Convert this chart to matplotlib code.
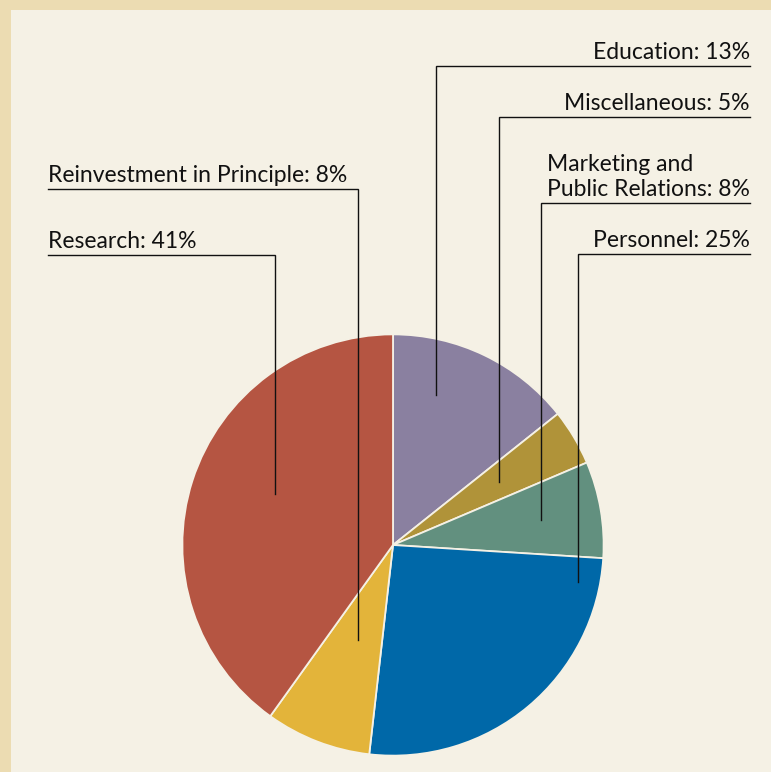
import matplotlib.pyplot as plt
from matplotlib.patches import Rectangle

# Data
labels = ["Education", "Miscellaneous", "Marketing and\nPublic Relations",
          "Personnel", "Reinvestment in Principle", "Research"]
label_pct = [13, 5, 8, 25, 8, 41]
# wedge sizes as drawn in the picture (slightly differ from the printed labels)
shares = [14.3, 4.3, 7.4, 25.8, 8.1, 40.1]
colors = ["#8a80a0", "#b09339", "#62907f", "#0068a8", "#e3b43a", "#b55542"]

# leader layout (data units, pie radius = 1)
anchor_x = [0.205, 0.505, 0.705, 0.881, -0.167, -0.562]
anchor_y = [0.714, 0.30, 0.119, -0.176, -0.452, 0.243]
shelf_y = [2.281, 2.038, 1.629, 1.386, 1.695, 1.381]
side = ["right", "right", "right", "right", "left", "left"]

W, H = 771, 772
R = 210
CX, CY = 393, 545

fig = plt.figure(figsize=(W / 100, H / 100), dpi=100)
fig.patch.set_facecolor("#ecdcb2")
fig.patches.append(Rectangle((11 / W, 0), 1, 1 - 10 / H, transform=fig.transFigure,
                             facecolor="#f5f1e5", edgecolor="none", zorder=0))

ax = fig.add_axes([0, 0, 1, 1])
ax.set_zorder(2)
ax.set_facecolor("none")
ax.pie(shares, colors=colors, startangle=90, counterclock=False, radius=1.003,
       wedgeprops=dict(edgecolor="#f5f1e5", linewidth=1.3))
ax.set_xlim(-CX / R, (W - CX) / R)
ax.set_ylim((CY - H) / R, CY / R)
ax.set_aspect("equal")
ax.axis("off")

right_end = (750 - CX) / R
left_end = (48 - CX) / R
gap = 7 / R
for lab, val, x, y, sy, s in zip(labels, label_pct, anchor_x, anchor_y, shelf_y, side):
    if s == "right":
        ax.plot([right_end, x, x], [sy, sy, y], color="#111111", lw=1.0,
                solid_joinstyle="miter")
        ax.text(right_end, sy + gap, f"{lab}: {val}%", ha="right", va="baseline",
                multialignment="left", fontsize=16.5, family="Lato", color="#111111",
                linespacing=1.25)
    else:
        ax.plot([left_end, x, x], [sy, sy, y], color="#111111", lw=1.0,
                solid_joinstyle="miter")
        ax.text(left_end, sy + gap, f"{lab}: {val}%", ha="left", va="baseline",
                fontsize=16.5, family="Lato", color="#111111")

fig.savefig("out.png", dpi=100, facecolor=fig.get_facecolor())
